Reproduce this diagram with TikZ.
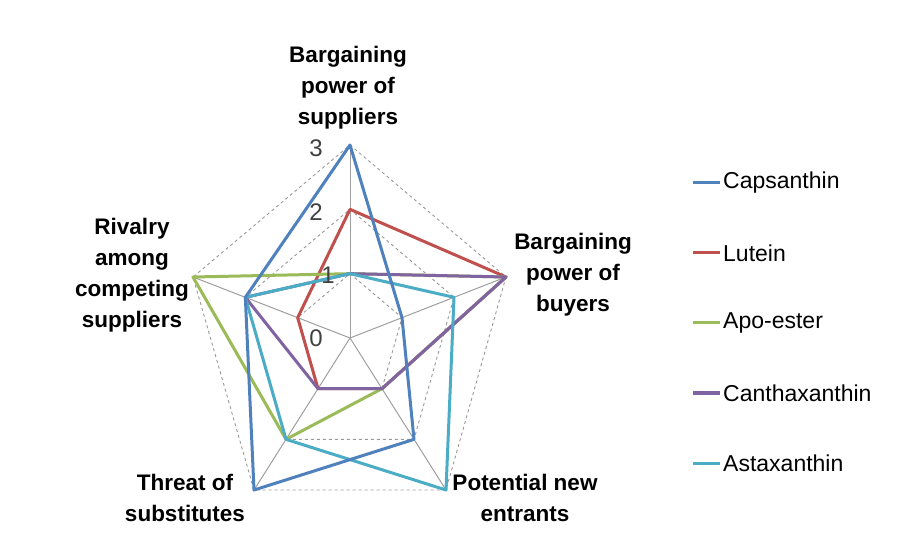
\documentclass[tikz,border=0pt]{standalone}
\usepackage{fontspec}
\setmainfont{Liberation Sans}
\definecolor{cblue}{HTML}{4F81BD}
\definecolor{cred}{HTML}{C0504D}
\definecolor{cgreen}{HTML}{9BBB59}
\definecolor{cpurple}{HTML}{8064A2}
\definecolor{ccyan}{HTML}{4BACC6}
\begin{document}
\begin{tikzpicture}[x=1pt,y=-1pt,
  series/.style={line width=3pt,line join=round},
  axlab/.style={font=\bfseries\fontsize{22.5}{31}\selectfont,align=center,inner sep=0pt},
  leg/.style={font=\fontsize{23}{24}\selectfont,anchor=west,inner sep=0pt},
  tick/.style={font=\fontsize{24}{24}\selectfont,text=black!75,inner sep=0pt}]
\useasboundingbox (0,0) rectangle (900,553);
\fill[white] (0,0) rectangle (900,553);
\begin{scope}[shift={(350,338)}]
\coordinate (O) at (0,0);
\foreach \v in {(0,-193),(156,-61),(96,152),(-96,152),(-157,-61)}
  \draw[gray!75,line width=1pt] (O) -- \v;
\foreach \k in {1,2,3}
  \draw[gray!80,dashed,line width=0.9pt] (0,-64.33*\k) -- (52*\k,-20.33*\k) -- (32*\k,50.67*\k) -- (-32*\k,50.67*\k) -- (-52.33*\k,-20.33*\k) -- cycle;
\newcommand{\ser}[6]{\draw[series,#1] (0,-64.33*#2) -- (52*#3,-20.33*#3) -- (32*#4,50.67*#4) -- (-32*#5,50.67*#5) -- (-52.33*#6,-20.33*#6) -- cycle;}
\ser{cred}{2}{3}{1}{1}{1}
\ser{cgreen}{1}{3}{1}{2}{3}
\ser{cpurple}{1}{3}{1}{1}{2}
\ser{ccyan}{1}{2}{3}{2}{2}
\ser{cblue}{3}{1}{2}{3}{2}
\end{scope}
\node[tick] (t3) at (316,148) {3};
\node[tick] (t2) at (316,212) {2};
\node[tick] (t1) at (328,275) {1};
\node[tick] (t0) at (316,338) {0};
\node[axlab] (la) at (348,88) {Bargaining\\power of\\suppliers};
\node[axlab] (lb) at (573,275) {Bargaining\\power of\\buyers};
\node[axlab] (le) at (132,275) {Rivalry\\among\\competing\\suppliers};
\node[axlab] (ld) at (185,498) {Threat of\\substitutes};
\node[axlab] (lc) at (525,498) {Potential new\\entrants};
\foreach \c/\t/\y in {cblue/Capsanthin/183,cred/Lutein/253,cgreen/Apo-ester/323,cpurple/Canthaxanthin/393,ccyan/Astaxanthin/463}{
  \draw[\c,line width=3pt] (693,\y) -- (720,\y);
  \node[leg] at (723,\y) {\t};
}
\end{tikzpicture}
\end{document}
